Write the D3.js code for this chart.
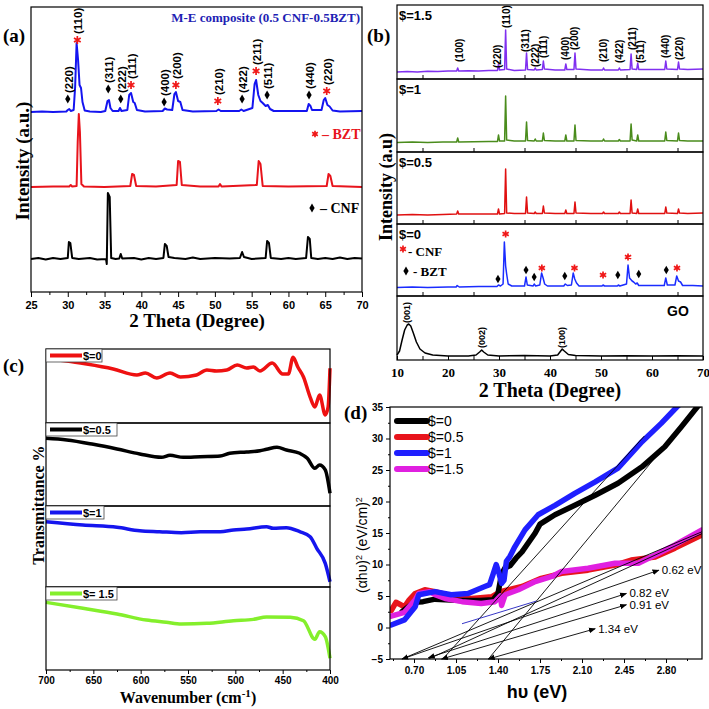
<!DOCTYPE html>
<html><head><meta charset="utf-8">
<script src="https://cdn.jsdelivr.net/npm/d3@7"></script>
<style>body{margin:0;background:#fff}svg{display:block}</style>
</head><body><svg id="fig" width="709" height="709"></svg>
<script>
// ---------------- DATA ----------------
// Panel (a): XRD, intensity in a.u. (offset stacked)
const aComposite = [[25,180],[26.5,180.5],[28,180],[29.8,180.5],[30.0,182],[30.2,183],[30.4,181],[30.8,182],[31.0,205],[31.2,249],[31.4,232],[31.6,207],[31.8,204],[32.0,190],[32.3,181.5],[33,180.5],[34.5,180],[35.1,181],[35.4,191],[35.6,192],[35.8,184],[36.1,181],[36.9,181],[37.1,184],[37.3,181],[38.1,182],[38.35,197],[38.6,199],[38.9,190],[39.1,189],[39.4,182],[40.5,180.5],[42.9,181],[43.2,183.5],[43.5,182.5],[44.2,182],[44.5,198],[44.7,200],[45.0,191],[45.3,190],[45.6,182],[47,180.5],[50.2,181],[50.5,182.5],[50.8,181],[53.3,181],[53.6,182.5],[53.9,181],[55.1,184],[55.4,208],[55.6,212],[55.9,197],[56.2,191],[56.5,189],[56.9,186],[57.2,187],[57.5,183],[58,181],[62.5,181],[62.75,188],[63.0,186],[63.2,182],[64.5,182],[64.8,192],[65.0,194],[65.3,187],[65.6,185.5],[66.0,181.5],[67,180.5],[70,181]];
const aBZT = [[25,105],[28,105.5],[30.2,105.5],[30.4,107],[30.6,105.5],[31.2,106],[31.35,150],[31.5,178],[31.65,160],[31.85,108],[32.2,105.5],[35,105],[38.5,106],[38.75,118],[39.0,117],[39.3,106],[42,105.5],[44.8,107],[45.0,131],[45.25,130],[45.5,107],[48,105.5],[50.5,105.5],[50.7,108],[50.9,105.5],[55.7,107],[55.95,131],[56.2,128],[56.5,106],[60,105.5],[65.2,106],[65.45,118],[65.7,116],[66.0,106],[70,105]];
const aCNF = [[25,33],[26,34],[27,32.5],[28,34],[29,33],[30.0,34],[30.15,50],[30.35,49],[30.6,34],[31.5,33],[33,34],[34,32.5],[35.2,33],[35.3,28],[35.45,99],[35.7,95],[35.9,34],[36.5,33],[37.0,33.5],[37.2,38],[37.4,33.5],[39,34],[40,32.5],[41,34],[42,33],[43.0,34],[43.2,48],[43.45,46],[43.7,35],[44.5,34],[46,33],[47,34.5],[48,33],[50,34],[52,33.5],[53.4,34],[53.7,40],[53.95,35],[55,33],[56.9,34],[57.1,51],[57.35,49],[57.6,34],[59,33],[60,34],[61,33],[62.4,34],[62.65,55],[62.9,53],[63.1,34],[64,33],[65,34],[66,33],[67,34.5],[68,33],[69,34],[70,33.5]];
const aPeakLabels = ["(220)","(110)","(311)","(222)","(111)","(400)","(200)","(210)","(422)","(211)","(511)","(440)","(220)"];
const aPeakTheta = [30.0,31.3,35.5,37.2,38.6,43.1,44.7,50.4,53.7,55.6,57.1,62.8,65.2];
const aPeakMark = ["d","s","d","d","s","d","s","s","d","s","d","d","s"];
const aPeakMarkI = [193,252,203,193,207,190,207,191,193,221,197,197,201];
const aXTicks = [25,30,35,40,45,50,55,60,65,70];

// Panel (b): XRD of $ series and GO
const bS15 = [[10,7],[12,7.5],[14,7],[16,7.8],[18,7.5],[20,8],[21.7,8],[21.9,11],[22.1,8],[24,8.3],[26,8],[28,8.5],[29.7,8.5],[29.9,15],[30.1,9],[31.1,9.5],[31.3,49],[31.5,10],[33,8.5],[35.2,9],[35.4,26],[35.6,9.5],[36.9,9],[37.1,11],[37.3,9],[38.5,9.5],[38.7,18],[38.9,10],[41,9],[42.9,9],[43.1,15],[43.3,9.5],[44.7,9.5],[44.9,26],[45.1,10],[48,9],[50.3,9],[50.5,11],[50.7,9],[53.4,9],[53.6,11],[53.8,9],[55.7,9.5],[55.9,25],[56.1,10],[57.0,9.5],[57.2,16],[57.4,9.5],[60,9.5],[62.5,9.5],[62.7,18],[62.9,10],[65.0,9.5],[65.2,17],[65.4,10],[67,9.5],[70,10]];
const bS1 = [[10,9.5],[13,10],[16,9.5],[19,10],[21.7,10],[21.9,14],[22.1,10],[25,10.3],[28,10.5],[29.7,10.5],[29.9,17],[30.1,11],[31.1,11],[31.3,56],[31.5,12],[33,11],[35.2,11],[35.4,30],[35.6,11.5],[36.9,11],[37.1,13],[37.3,11],[38.5,11],[38.7,19],[38.9,11.5],[41,11],[42.9,11],[43.1,17],[43.3,11],[44.7,11],[44.9,27],[45.1,11.5],[48,11],[50.3,11],[50.5,13],[50.7,11],[53.4,11],[53.6,12.5],[53.8,11],[55.7,11],[55.9,28],[56.1,12],[57.0,11],[57.2,17],[57.4,11],[60,11],[62.5,11],[62.7,20],[62.9,11.5],[65.0,11],[65.2,19],[65.4,11.5],[67,11],[70,11]];
const bS05 = [[10,9],[13,9.5],[16,9],[19,9.5],[21.7,10],[21.9,13],[22.1,10],[25,10],[28,10],[29.7,10],[29.9,15],[30.1,10],[31.1,10.5],[31.3,55],[31.5,11],[33,10.5],[35.2,10.5],[35.4,27],[35.6,11],[36.9,10.5],[37.1,12],[37.3,10.5],[38.5,10.5],[38.7,18],[38.9,11],[41,10.5],[42.9,10.5],[43.1,14],[43.3,10.5],[44.7,10.5],[44.9,22],[45.1,11],[48,10.5],[50.3,10.5],[50.5,12],[50.7,10.5],[53.4,10.5],[53.6,12],[53.8,10.5],[55.7,10.5],[55.9,24],[56.1,11],[57.0,10.5],[57.2,15],[57.4,10.5],[60,10.5],[62.5,10.5],[62.7,17],[62.9,11],[65.0,10.5],[65.2,15],[65.4,11],[67,10.5],[70,11]];
const bS0 = [[10,8.5],[13,9],[16,8.5],[20,9],[21.6,9],[21.8,10.5],[22.2,9],[26,9.5],[29.6,9.5],[29.9,11],[30.3,10],[30.8,12],[31.05,54],[31.3,30],[31.5,22],[31.8,12],[32.5,10],[35.0,10],[35.3,19],[35.55,11],[36.7,10],[36.9,12],[37.2,10],[38.0,11],[38.35,23],[38.65,18],[38.95,12],[39.5,10],[42.7,10],[43.0,12],[43.4,10.5],[44.2,11],[44.55,23],[44.85,17],[45.2,13],[45.7,10],[48,10],[50.2,10],[50.4,11],[50.7,10],[53.2,10],[53.4,11],[53.7,10],[55.0,12],[55.3,31],[55.6,18],[56.1,15],[56.4,14],[56.8,12],[57.1,13],[57.4,10.5],[60,10.5],[62.4,10.5],[62.7,18],[63.0,11],[64.5,11],[64.85,20],[65.2,15],[65.6,14],[66.0,10.5],[68,10.5],[70,10]];
const bGO = [[10,5],[10.5,9],[11.0,20],[11.5,30],[12.0,35],[12.3,36],[12.7,34],[13.2,27],[13.8,18],[14.5,11],[15.5,7],[17,5],[20,4],[24,4],[25.5,5],[26.2,8],[26.6,10],[27.0,8],[27.8,5],[30,4],[35,4.5],[40,4],[41.5,5],[42.1,9],[42.4,11],[42.8,9],[43.6,5.5],[45,4.5],[50,4],[55,4.3],[60,4],[65,4.3],[70,4]];
const bS15Labels = ["(100)","(220)","(110)","(311)","(222)","(111)","(400)","(200)","(210)","(422)","(211)","(511)","(440)","(220)"];
const bS15LabelTheta = [22.2,29.8,31.4,35.1,37.1,38.8,43.1,44.9,50.4,53.7,56.1,57.8,62.7,65.3];
const bS15LabelI = [17,11,51,27,12,21,19,29,17,16,29,16,21,19];
const bS0MarkTheta = [29.8,31.3,35.3,36.9,38.4,42.9,44.8,50.4,53.3,55.3,57.4,62.8,64.9];
const bS0MarkType = ["d","s","d","d","s","d","s","s","d","s","d","d","s"];
const bS0MarkI = [17,62,26,19,28,20,28,21,21,39,22,26,28];
const bGOLabels = ["(001)","(002)","(100)"];
const bGOLabelTheta = [12.0,26.6,42.4];
const bGOLabelI = [37,12,12];
const bXTicks = [10,20,30,40,50,60,70];

// Panel (c): FTIR transmittance (relative, per sub-panel)
const cS0 = [[700,86.5],[678,83.8],[657,79.7],[629,73],[604,64.9],[595,67.6],[583,60.8],[569,67.6],[558,62.2],[541,64.9],[530,71.6],[520,70.3],[509,71.6],[498,78.4],[488,74.3],[481,75.7],[474,70.3],[461,81],[450,66.2],[444,66.2],[439,89],[434,75.7],[428,62.2],[421,35],[416,21.6],[411,37.8],[405,10.8],[402,21.6],[400,74]];
const cS05 = [[700,81.5],[678,79.5],[650,74.3],[625,68.7],[601,62.7],[578,58.6],[569,61],[555,58.6],[537,59.4],[516,60.2],[506,63.5],[488,65.1],[474,66.6],[467,68.3],[456,70.7],[446,67.5],[432,63.5],[424,57.5],[416,45.4],[411,49.4],[405,43.4],[400,15.3]];
const cS1 = [[700,80.6],[661,76.5],[625,73.7],[601,69.5],[580,68.3],[557,67.1],[537,68.3],[516,68.3],[502,70.4],[488,71.6],[467,74.5],[460,72.4],[446,73.3],[432,68.3],[421,62.1],[414,47.7],[405,29.2],[400,6.5]];
const cS15 = [[700,81.5],[661,74.3],[625,67.5],[594,60.2],[573,57.5],[557,55.4],[530,56.2],[502,59.4],[481,61],[467,63.9],[442,63.5],[428,59.4],[416,37],[411,46.1],[405,40.1],[400,14.1]];
const cNames = ["$=0","$=0.5","$=1","$= 1.5"];
const cXTicks = [700,650,600,550,500,450,400];

// Panel (d): Tauc plot
const dS0 = [[0.60,2.5],[0.70,4.0],[0.775,4.1],[0.875,4.5],[0.96,4.4],[1.10,4.3],[1.25,4.3],[1.36,4.4],[1.40,5.4],[1.43,8.5],[1.46,9.5],[1.50,9.8],[1.55,11],[1.60,12],[1.71,15],[1.75,16.4],[1.80,17],[1.875,17.9],[2.04,19.4],[2.21,21.0],[2.40,22.9],[2.60,25.5],[2.79,28.7],[2.93,31.9],[3.06,35],[3.12,36]];
const dS05 = [[0.51,2.7],[0.55,4.0],[0.62,3.3],[0.66,4.4],[0.71,5.4],[0.79,6.0],[0.875,5.7],[1.01,5.0],[1.18,4.6],[1.35,4.9],[1.42,5.7],[1.60,6.5],[1.76,7.8],[1.93,8.6],[2.15,9.1],[2.375,9.9],[2.51,10.7],[2.71,11.2],[2.875,12.6],[3.10,14.7]];
const dS1 = [[0.51,0.4],[0.62,1.2],[0.71,3.3],[0.74,5.2],[0.875,5.7],[1.01,5.2],[1.15,5.4],[1.29,6.5],[1.33,6.8],[1.36,8.5],[1.385,10],[1.41,8.5],[1.43,7.0],[1.45,7.5],[1.47,10.5],[1.50,11.3],[1.54,12.8],[1.625,15.5],[1.735,17.9],[1.875,19.4],[2.04,21.3],[2.21,23.1],[2.40,25.3],[2.60,29.5],[2.76,32.4],[2.89,35],[2.95,36]];
const dS15 = [[0.51,1.8],[0.62,2.4],[0.71,4.4],[0.74,5.4],[0.83,5.7],[0.875,5.2],[0.96,4.6],[1.10,4.1],[1.26,3.8],[1.375,4.1],[1.42,5.0],[1.43,3.5],[1.46,5.2],[1.57,6.0],[1.71,7.3],[1.85,8.1],[1.93,8.9],[2.15,9.4],[2.375,10.2],[2.57,10.2],[2.71,11.5],[2.875,13.1],[3.10,15.5]];
const dNames = ["$=0","$=0.5","$=1","$=1.5"];
const dTangents = [[[0.94,-5],[2.62,30.4]],[[1.32,-5],[2.72,27.2]],[[0.60,-5],[3.10,15.2]],[[0.82,-5],[3.10,14.9]]];
const dBlueLine = [[1.10,0.6],[1.72,4.2]];
const dArrowFrom = [[0.60,-5],[0.82,-4.8],[0.93,-5],[1.32,-5]];
const dArrowTo = [[2.74,9.1],[2.47,5.4],[2.47,3.6],[2.21,-0.2]];
const dArrowLabels = ["0.62 eV","0.82 eV","0.91 eV","1.34 eV"];
const dXTicks = [0.70,1.05,1.40,1.75,2.10,2.45,2.80];
const dYTicks = [-5,0,5,10,15,20,25,30,35];

// ---------------- DRAWING ----------------
const svg = d3.select("#fig");
const SERIF = "'Liberation Serif','Times New Roman',serif";
const SANS = "'Liberation Sans',Arial,sans-serif";
const defs = svg.append("defs");
defs.append("marker").attr("id","ah").attr("viewBox","0 0 10 10").attr("refX",9).attr("refY",5)
  .attr("markerWidth",7).attr("markerHeight",7).attr("markerUnits","userSpaceOnUse").attr("orient","auto-start-reverse")
  .append("path").attr("d","M0,1 L10,5 L0,9 z").attr("fill","#000");
const asteriskType = d3.symbolAsterisk || d3.symbolCross;

function txt(g, x, y, s, o) {
  o = o || {};
  return g.append("text").attr("x", x).attr("y", y).text(s)
    .attr("font-family", o.family || SANS).attr("font-size", o.size || 12)
    .attr("font-weight", o.weight || "bold").attr("fill", o.fill || "#000")
    .attr("text-anchor", o.anchor || "start");
}
function vtxt(g, x, y, s, o) {
  o = o || {};
  return g.append("text").attr("transform", `translate(${x},${y}) rotate(-90)`).text(s)
    .attr("dy", o.dy || "0.35em")
    .attr("font-family", o.family || SANS).attr("font-size", o.size || 12)
    .attr("font-weight", o.weight || "bold").attr("fill", o.fill || "#000")
    .attr("text-anchor", o.anchor || "start");
}
function marker(g, type, x, y, sz) {
  if (type === "d") {
    g.append("path").attr("d", d3.symbol(d3.symbolDiamond, sz || 24)()).attr("transform", `translate(${x},${y})`).attr("fill", "#000");
  } else {
    g.append("path").attr("d", d3.symbol(asteriskType, sz || 42)()).attr("transform", `translate(${x},${y})`)
      .attr("fill", "none").attr("stroke", "#f01818").attr("stroke-width", 1.7);
  }
}
function frame(g, x0, y0, x1, y1, w) {
  g.append("rect").attr("x", x0).attr("y", y0).attr("width", x1 - x0).attr("height", y1 - y0)
    .attr("fill", "none").attr("stroke", "#000").attr("stroke-width", w || 1.2);
}

// ===== Panel (a) =====
{
  const g = svg.append("g");
  const x = d3.scaleLinear([25, 70], [31, 362]);
  const y = d3.scaleLinear([0, 285], [292, 7]);
  const line = d3.line().x(d => x(d[0])).y(d => y(d[1]));
  [[aCNF, "#000"], [aBZT, "#e8141c"], [aComposite, "#1414f0"]].forEach(([d, c]) => {
    g.append("path").datum(d).attr("d", line).attr("fill", "none").attr("stroke", c).attr("stroke-width", 2).attr("stroke-linejoin", "round");
  });
  frame(g, 31, 7, 362, 292);
  const ax = g.append("g").attr("transform", "translate(0,292)")
    .call(d3.axisBottom(x).tickValues(aXTicks).tickFormat(d3.format("d")).tickSize(5).tickPadding(4));
  ax.select(".domain").remove();
  ax.selectAll("text").attr("font-family", SANS).attr("font-size", 11).attr("font-weight", "bold");
  g.append("g").attr("transform", "translate(0,292)")
    .call(d3.axisBottom(x).tickValues(d3.range(27.5, 70, 5)).tickFormat("").tickSize(3))
    .select(".domain").remove();
  aPeakTheta.forEach((t, i) => {
    const px = x(t), py = y(aPeakMarkI[i]);
    marker(g, aPeakMark[i], px, py);
    vtxt(g, px + 1, py - 6, aPeakLabels[i], {size: 11.5});
  });
  txt(g, 360, 22, "M-E composite (0.5 CNF-0.5BZT)", {family: SERIF, size: 13, fill: "#1e1eb4", anchor: "end"});
  marker(g, "s", 315, 134, 30);
  txt(g, 322, 139, "– BZT", {family: SERIF, size: 14, fill: "#e8141c"});
  marker(g, "d", 312, 208, 24);
  txt(g, 320, 213, "– CNF", {family: SERIF, size: 14});
  txt(g, 197, 327, "2 Theta (Degree)", {family: SERIF, size: 19, anchor: "middle"});
  vtxt(g, 22, 161, "Intensity (a.u.)", {family: SERIF, size: 19, anchor: "middle", dy: 0});
  txt(g, 3, 42, "(a)", {family: SERIF, size: 19});
}

// ===== Panel (b) =====
{
  const g = svg.append("g");
  const x = d3.scaleLinear([10, 70], [397, 703]);
  const panels = [
    {d: bS15, c: "#8030f0", top: 5, bot: 79, name: "$=1.5"},
    {d: bS1, c: "#4a8c1c", top: 79, bot: 152, name: "$=1"},
    {d: bS05, c: "#e01010", top: 152, bot: 224, name: "$=0.5"},
    {d: bS0, c: "#1a2cff", top: 224, bot: 296, name: "$=0"},
    {d: bGO, c: "#000", top: 296, bot: 360, name: ""}
  ];
  panels.forEach(p => {
    const y = d3.scaleLinear([0, p.bot - p.top], [p.bot, p.top]);
    p.y = y;
    g.append("path").datum(p.d).attr("d", d3.line().x(d => x(d[0])).y(d => y(d[1])))
      .attr("fill", "none").attr("stroke", p.c).attr("stroke-width", 1.5).attr("stroke-linejoin", "round");
    frame(g, 397, p.top, 703, p.bot, 1.2);
    if (p.bot !== 360) {
      g.append("g").attr("transform", `translate(0,${p.bot})`)
        .call(d3.axisTop(x).tickValues(d3.range(15, 70, 10)).tickFormat("").tickSize(4))
        .select(".domain").remove();
    }
    if (p.name) txt(g, 399, p.top + 15, p.name, {size: 13});
  });
  // bottom axis
  const ax = g.append("g").attr("transform", "translate(0,360)")
    .call(d3.axisBottom(x).tickValues(bXTicks).tickFormat(d3.format("d")).tickSize(0).tickPadding(8));
  ax.select(".domain").remove();
  ax.selectAll("text").attr("font-family", SERIF).attr("font-size", 13).attr("font-weight", "bold");
  g.append("g").attr("transform", "translate(0,360)")
    .call(d3.axisTop(x).tickValues(d3.range(10, 71, 5)).tickFormat("").tickSize(4))
    .select(".domain").remove();
  // $=1.5 labels
  const y15 = panels[0].y;
  bS15Labels.forEach((s, i) => vtxt(g, x(bS15LabelTheta[i]), y15(bS15LabelI[i]), s, {size: 10}));
  // $=0 markers
  const y0 = panels[3].y;
  bS0MarkTheta.forEach((t, i) => marker(g, bS0MarkType[i], x(t), y0(bS0MarkI[i]), bS0MarkType[i] === "d" ? 22 : 36));
  marker(g, "s", 403, 249, 32);
  txt(g, 408, 256, "- CNF", {family: SERIF, size: 13});
  marker(g, "d", 406, 271, 24);
  txt(g, 413, 276, "- BZT", {family: SERIF, size: 13});
  // GO
  const yGO = panels[4].y;
  bGOLabels.forEach((s, i) => vtxt(g, x(bGOLabelTheta[i]), yGO(bGOLabelI[i]), s, {size: 9}));
  txt(g, 678, 316, "GO", {size: 14, anchor: "middle"});
  txt(g, 550, 397, "2 Theta (Degree)", {family: SERIF, size: 20, anchor: "middle"});
  vtxt(g, 386, 187, "Intensity (a.u)", {family: SERIF, size: 18, anchor: "middle", dy: 0});
  txt(g, 367, 42, "(b)", {family: SERIF, size: 19});
}

// ===== Panel (c) =====
{
  const g = svg.append("g");
  const x = d3.scaleLinear([700, 400], [46, 330]);
  const bounds = [[349, 423], [423, 506], [506, 587], [587, 670]];
  const series = [cS0, cS05, cS1, cS15];
  const colors = ["#ee1111", "#000", "#1515ee", "#84ef2c"];
  series.forEach((d, i) => {
    const [top, bot] = bounds[i];
    const y = d3.scaleLinear([0, 100], [bot, top]);
    g.append("path").datum(d).attr("d", d3.line().curve(d3.curveMonotoneX).x(v => x(v[0])).y(v => y(v[1])))
      .attr("fill", "none").attr("stroke", colors[i]).attr("stroke-width", 3.5).attr("stroke-linejoin", "round");
    frame(g, 46, top, 330, bot, 1.2);
    const lw = cNames[i].length > 4 ? 71 : (cNames[i] === "$=1" ? 58 : 56);
    g.append("rect").attr("x", 46).attr("y", top).attr("width", lw).attr("height", 13)
      .attr("fill", "#fff").attr("stroke", "#444").attr("stroke-width", 0.8);
    g.append("line").attr("x1", 50).attr("x2", 82).attr("y1", top + 6.5).attr("y2", top + 6.5)
      .attr("stroke", colors[i]).attr("stroke-width", 4);
    txt(g, 83, top + 11, cNames[i], {size: 11});
  });
  const ax = g.append("g").attr("transform", "translate(0,670)")
    .call(d3.axisBottom(x).tickValues(cXTicks).tickFormat(d3.format("d")).tickSize(4).tickPadding(3));
  ax.select(".domain").remove();
  ax.selectAll("text").attr("font-family", SANS).attr("font-size", 10).attr("font-weight", "bold");
  g.append("g").attr("transform", "translate(0,670)")
    .call(d3.axisBottom(x).tickValues(d3.range(675, 400, -50)).tickFormat("").tickSize(2))
    .select(".domain").remove();
  const t = txt(g, 188, 703, "Wavenumber (cm", {family: SERIF, size: 16, anchor: "middle"});
  t.append("tspan").attr("dy", -6).attr("font-size", 11).text("-1");
  t.append("tspan").attr("dy", 6).text(")");
  vtxt(g, 38, 505, "Transmittance %", {family: SERIF, size: 16, anchor: "middle", dy: 0});
  txt(g, 3, 372, "(c)", {family: SERIF, size: 19});
}

// ===== Panel (d) =====
{
  const g = svg.append("g");
  const x = d3.scaleLinear([0.5, 3.1], [390, 702]);
  const y = d3.scaleLinear([-5, 35], [659, 407]);
  defs.append("clipPath").attr("id", "clipD").append("rect").attr("x", 390).attr("y", 407).attr("width", 312).attr("height", 252);
  const pg = g.append("g").attr("clip-path", "url(#clipD)");
  const line = d3.line().x(d => x(d[0])).y(d => y(d[1]));
  const series = [[dS05, "#e8141c"], [dS0, "#000"], [dS15, "#e020e0"], [dS1, "#1f1fff"]];
  series.forEach(([d, c]) => pg.append("path").datum(d).attr("d", line)
    .attr("fill", "none").attr("stroke", c).attr("stroke-width", 5.5).attr("stroke-linejoin", "round").attr("stroke-linecap", "round"));
  dTangents.forEach(tl => pg.append("path").datum(tl).attr("d", line).attr("fill", "none").attr("stroke", "#000").attr("stroke-width", 0.9));
  pg.append("path").datum(dBlueLine).attr("d", line).attr("fill", "none").attr("stroke", "#2020c0").attr("stroke-width", 0.9);
  dArrowFrom.forEach((f, i) => {
    const to = dArrowTo[i];
    g.append("line").attr("x1", x(f[0])).attr("y1", y(f[1])).attr("x2", x(to[0])).attr("y2", y(to[1]))
      .attr("stroke", "#000").attr("stroke-width", 0.9)
      .attr("marker-start", "url(#ah)").attr("marker-end", "url(#ah)");
    txt(g, x(to[0]) + 3, y(to[1]) + 4, dArrowLabels[i], {size: 11.5, weight: "normal"});
  });
  frame(g, 390, 407, 702, 659, 1.2);
  const ax = g.append("g").attr("transform", "translate(0,659)")
    .call(d3.axisBottom(x).tickValues(dXTicks).tickFormat(d3.format(".2f")).tickSize(4).tickPadding(4));
  ax.select(".domain").remove();
  ax.selectAll("text").attr("font-family", SANS).attr("font-size", 10).attr("font-weight", "bold");
  g.append("g").attr("transform", "translate(0,659)")
    .call(d3.axisBottom(x).tickValues(d3.range(0.525, 3.1, 0.35)).tickFormat("").tickSize(2))
    .select(".domain").remove();
  const ay = g.append("g").attr("transform", "translate(390,0)")
    .call(d3.axisLeft(y).tickValues(dYTicks).tickFormat(d3.format("d")).tickSize(4).tickPadding(3));
  ay.select(".domain").remove();
  ay.selectAll("text").attr("font-family", SANS).attr("font-size", 10).attr("font-weight", "bold");
  g.append("g").attr("transform", "translate(390,0)")
    .call(d3.axisLeft(y).tickValues(d3.range(-2.5, 35, 5)).tickFormat("").tickSize(2))
    .select(".domain").remove();
  // legend
  const lc = ["#000", "#e8141c", "#1f1fff", "#e020e0"];
  dNames.forEach((n, i) => {
    const ly = 421 + i * 16;
    g.append("line").attr("x1", 397).attr("x2", 427).attr("y1", ly).attr("y2", ly)
      .attr("stroke", lc[i]).attr("stroke-width", 6).attr("stroke-linecap", "round");
    txt(g, 428, ly + 5, n, {size: 14, weight: "normal"});
  });
  txt(g, 537, 698, "hυ (eV)", {size: 18, anchor: "middle"});
  const yl = vtxt(g, 362, 545, "(αhυ)", {size: 14, anchor: "middle", dy: 0, weight: "normal"});
  yl.append("tspan").attr("dy", -5).attr("font-size", 9).text("2");
  yl.append("tspan").attr("dy", 5).text(" (eV/cm)");
  yl.append("tspan").attr("dy", -5).attr("font-size", 9).text("2");
  txt(g, 344, 419, "(d)", {family: SERIF, size: 19});
}
</script></body></html>
